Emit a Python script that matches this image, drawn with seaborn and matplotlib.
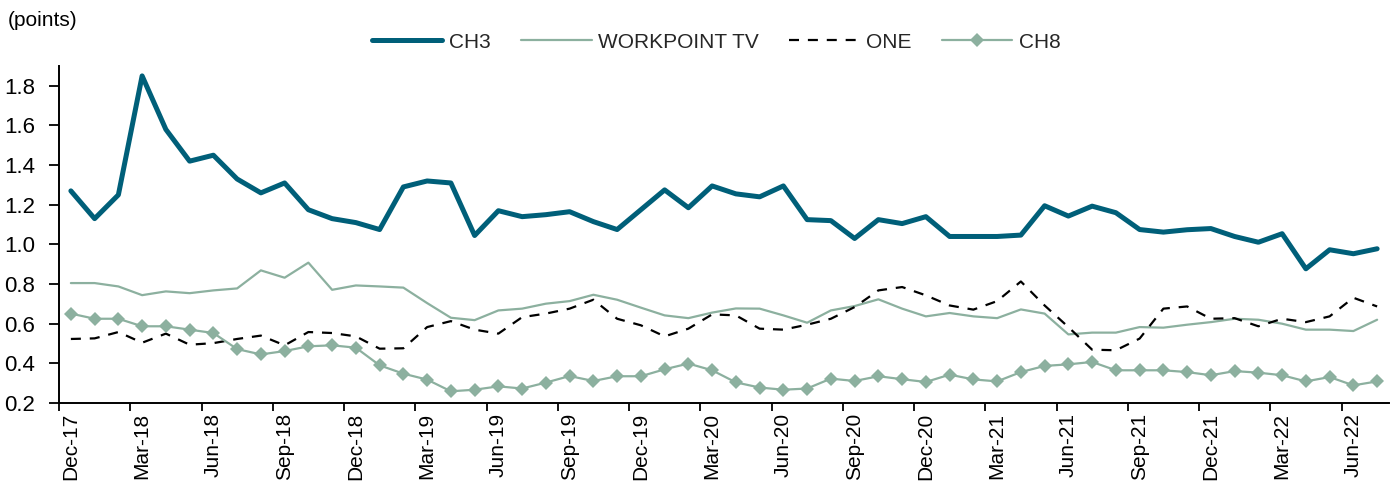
import matplotlib
matplotlib.use("Agg")
import matplotlib.pyplot as plt
import seaborn as sns
import pandas as pd
import numpy as np
from matplotlib.ticker import FixedLocator, NullFormatter

# ---- data (monthly, Dec-17 .. Jul-22) ----
months = pd.date_range("2017-12-01", periods=56, freq="MS").strftime("%b-%y").tolist()

ch3 = [1.27, 1.13, 1.25, 1.85, 1.58, 1.42, 1.45, 1.33, 1.26, 1.31,
       1.175, 1.13, 1.11, 1.075, 1.29, 1.32, 1.31, 1.045, 1.17, 1.14,
       1.15, 1.165, 1.115, 1.075, 1.175, 1.275, 1.185, 1.295, 1.255, 1.24,
       1.295, 1.125, 1.12, 1.03, 1.125, 1.105, 1.14, 1.04, 1.04, 1.04,
       1.047, 1.195, 1.143, 1.193, 1.16, 1.075, 1.062, 1.074, 1.08, 1.04,
       1.011, 1.054, 0.877, 0.973, 0.953, 0.978]

workpoint = [0.805, 0.805, 0.788, 0.744, 0.763, 0.754, 0.768, 0.778, 0.869, 0.832,
             0.908, 0.771, 0.793, 0.788, 0.782, 0.704, 0.63, 0.618, 0.667, 0.676,
             0.701, 0.714, 0.746, 0.721, 0.681, 0.642, 0.628, 0.656, 0.677, 0.676,
             0.642, 0.605, 0.667, 0.689, 0.723, 0.676, 0.637, 0.654, 0.637, 0.628,
             0.672, 0.651, 0.546, 0.555, 0.555, 0.583, 0.58, 0.595, 0.608, 0.625,
             0.62, 0.6, 0.57, 0.57, 0.563, 0.62]

one = [0.523, 0.526, 0.558, 0.504, 0.55, 0.494, 0.502, 0.523, 0.54, 0.491,
       0.558, 0.553, 0.536, 0.474, 0.476, 0.583, 0.613, 0.57, 0.55, 0.633,
       0.651, 0.676, 0.721, 0.625, 0.592, 0.536, 0.575, 0.647, 0.642, 0.575,
       0.57, 0.595, 0.625, 0.684, 0.768, 0.785, 0.743, 0.692, 0.671, 0.714,
       0.813, 0.692, 0.583, 0.469, 0.466, 0.525, 0.676, 0.687, 0.625, 0.628,
       0.587, 0.625, 0.608, 0.637, 0.731, 0.687]

ch8 = [0.651, 0.625, 0.625, 0.587, 0.587, 0.57, 0.553, 0.472, 0.445, 0.462,
       0.486, 0.491, 0.479, 0.39, 0.348, 0.318, 0.259, 0.267, 0.284, 0.273,
       0.303, 0.336, 0.311, 0.335, 0.335, 0.37, 0.399, 0.365, 0.304, 0.278,
       0.267, 0.273, 0.323, 0.311, 0.335, 0.32, 0.306, 0.343, 0.319, 0.309,
       0.356, 0.387, 0.395, 0.407, 0.365, 0.365, 0.365, 0.356, 0.34, 0.361,
       0.353, 0.34, 0.309, 0.331, 0.289, 0.309]

y_ticks = [0.2, 0.4, 0.6, 0.8, 1.0, 1.2, 1.4, 1.6, 1.8]

df = pd.DataFrame({"pos": np.arange(len(months)), "month": months,
                   "CH3": ch3, "WORKPOINT TV": workpoint, "ONE": one, "CH8": ch8})

# ---- style ----
sns.set_theme(style="white")
plt.rcParams["font.family"] = ["Liberation Sans", "DejaVu Sans"]
FS = 15

fig = plt.figure(figsize=(13.95, 4.84), dpi=100)
ax = fig.add_axes([59 / 1395, 1 - 403 / 484, (1389 - 59) / 1395, (403 - 66) / 484])

teal = "#005F79"
sage = "#8CB09F"

sns.lineplot(data=df, x="pos", y="WORKPOINT TV", ax=ax, color=sage, lw=1.6,
             label="WORKPOINT TV", zorder=2)
sns.lineplot(data=df, x="pos", y="ONE", ax=ax, color="black", lw=1.6,
             label="ONE", zorder=3)
sns.lineplot(data=df, x="pos", y="CH8", ax=ax, color=sage, lw=1.6, marker="D",
             markersize=7, markeredgewidth=0, label="CH8", zorder=4)
sns.lineplot(data=df, x="pos", y="CH3", ax=ax, color=teal, lw=3.6,
             label="CH3", zorder=5)

lines = {ln.get_label(): ln for ln in ax.get_lines()}
lines["ONE"].set_linestyle((0, (4.5, 4)))
lines["CH3"].set_solid_capstyle("round")

ax.set_xlim(-0.5, len(months) - 0.5)
ax.set_ylim(0.2, 1.9)
ax.set_xlabel("")
ax.set_ylabel("")

# y axis
ax.set_yticks(y_ticks)
ax.set_yticklabels([f"{v:.1f}" for v in y_ticks], fontsize=16, color="black")
ax.tick_params(axis="y", direction="out", length=7, width=1.3, color="black", pad=10, left=True)

# x axis: labels at every 3rd category, tick marks at category boundaries
lab_pos = list(range(0, len(months), 3))
ax.xaxis.set_major_locator(FixedLocator(lab_pos))
ax.set_xticklabels([months[i] for i in lab_pos], rotation=90, fontsize=FS, color="black")
ax.xaxis.set_minor_locator(FixedLocator([i - 0.5 for i in lab_pos]))
ax.xaxis.set_minor_formatter(NullFormatter())
ax.tick_params(axis="x", which="major", length=0, pad=7, bottom=True)
ax.tick_params(axis="x", which="minor", direction="out", length=6, width=1.3, color="black", bottom=True)

for s in ["top", "right"]:
    ax.spines[s].set_visible(False)
for s in ["left", "bottom"]:
    ax.spines[s].set_color("black")
    ax.spines[s].set_linewidth(1.4)
ax.grid(False)

# legend
ax.get_legend().remove()
order = ["CH3", "WORKPOINT TV", "ONE", "CH8"]
fig.legend([lines[k] for k in order], order, loc="center",
           bbox_to_anchor=(716 / 1395, 1 - 42 / 484), ncol=4, frameon=False,
           fontsize=FS, handlelength=3.4, handletextpad=0.3, columnspacing=1.45)

fig.text(8 / 1395, 1 - 20 / 484, "(points)", fontsize=FS, ha="left", va="center", color="black")

fig.savefig("out.png", dpi=100)
